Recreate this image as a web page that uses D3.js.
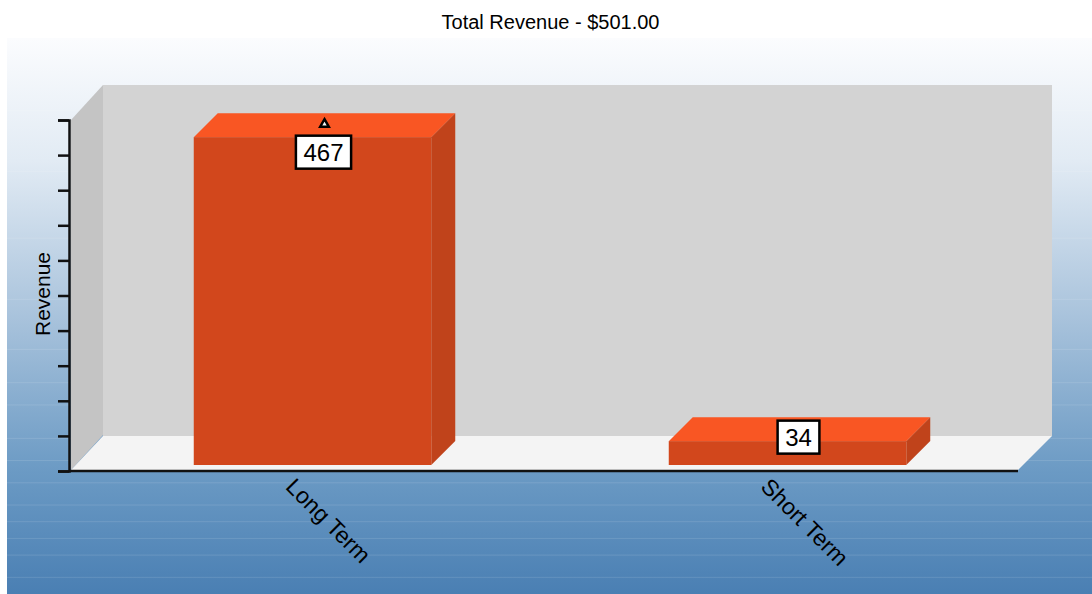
<!DOCTYPE html>
<html>
<head>
<meta charset="utf-8">
<title>Total Revenue</title>
<script src="https://cdn.jsdelivr.net/npm/d3@7"></script>
<style>
  html, body { margin: 0; padding: 0; background: #fff; }
  svg { display: block; }
  text { font-family: "Liberation Sans", Arial, sans-serif; fill: #000; }
</style>
</head>
<body>
<div id="chart"></div>
<script>
const title = "Total Revenue - $501.00";
const yTitle = "Revenue";
const categories = ["Long Term", "Short Term"];
const revenue = [467, 34];
const yTicks = d3.range(0, 501, 50);
// light streaks in the background, as a share of its height
const streaks = [0.13, 0.24, 0.36, 0.47, 0.56, 0.62, 0.66, 0.72, 0.76, 0.8, 0.84, 0.87, 0.9, 0.93, 0.97];

const width = 1092, height = 594;
const plot = { left: 69, right: 1019, top: 120, bottom: 471 };
const wall = { dx: 34, dy: 35 };      // depth of the back wall
const barInset = 6;                   // front of the bar sits this far in from the axes
const barDepth = 24;

const svg = d3.select("#chart").append("svg").attr("width", width).attr("height", height);

const defs = svg.append("defs");
const bg = defs.append("linearGradient").attr("id", "bg").attr("x1", 0).attr("x2", 0).attr("y1", 0).attr("y2", 1);
bg.append("stop").attr("offset", 0).attr("stop-color", "#fbfcfe");
bg.append("stop").attr("offset", 0.22).attr("stop-color", "#e2ebf4");
bg.append("stop").attr("offset", 0.5).attr("stop-color", "#a9c3dc");
bg.append("stop").attr("offset", 0.78).attr("stop-color", "#6b9ac4");
bg.append("stop").attr("offset", 1).attr("stop-color", "#4a7fb3");

const bgTop = 38, bgLeft = 7;
svg.append("rect").attr("x", bgLeft).attr("y", bgTop).attr("width", width - bgLeft).attr("height", height - bgTop).attr("fill", "url(#bg)");
svg.append("g").selectAll("line").data(streaks).join("line")
  .attr("x1", bgLeft).attr("x2", width)
  .attr("y1", d => bgTop + d * (height - bgTop))
  .attr("y2", d => bgTop + d * (height - bgTop))
  .attr("stroke", "#fff").attr("stroke-opacity", 0.12);

const x = d3.scaleBand().domain(categories).range([plot.left, plot.right]).paddingInner(0.5).paddingOuter(0.25);
const y = d3.scaleLinear().domain([0, 500]).range([plot.bottom, plot.top]);

const poly = pts => pts.map(p => p.join(",")).join(" ");

// walls and floor
const x0 = plot.left + 2, x1 = plot.right - 1, yb = plot.bottom - 1, yt = plot.top;
svg.append("polygon").attr("fill", "#c4c4c4")
  .attr("points", poly([[x0, yb], [x0 + wall.dx - 2, yb - wall.dy], [x0 + wall.dx - 2, yt - wall.dy], [x0, yt]]));
svg.append("polygon").attr("fill", "#d3d3d3")
  .attr("points", poly([[x0 + wall.dx - 2, yb - wall.dy + 1], [x1 + wall.dx, yb - wall.dy + 1], [x1 + wall.dx, yt - wall.dy], [x0 + wall.dx - 2, yt - wall.dy]]));
svg.append("polygon").attr("fill", "#f4f4f4")
  .attr("points", poly([[x0, yb], [x0 + wall.dx - 2, yb - wall.dy + 1], [x1 + wall.dx, yb - wall.dy + 1], [x1, yb]]));

// bars
const bars = svg.append("g").selectAll("g").data(categories.map((c, i) => ({ name: c, value: revenue[i] }))).join("g");
const front = d => ({ l: x(d.name) + barInset, r: x(d.name) + barInset + x.bandwidth(), t: y(d.value) - barInset, b: y(0) - barInset });
bars.append("polygon").attr("fill", "#f95623").attr("points", d => {
  const f = front(d);
  return poly([[f.l, f.t], [f.l + barDepth, f.t - barDepth], [f.r + barDepth, f.t - barDepth], [f.r, f.t]]);
});
bars.append("polygon").attr("fill", "#c0431b").attr("points", d => {
  const f = front(d);
  return poly([[f.r, f.t], [f.r + barDepth, f.t - barDepth], [f.r + barDepth, f.b - barDepth], [f.r, f.b]]);
});
bars.append("rect").attr("fill", "#d2471c")
  .attr("x", d => front(d).l).attr("y", d => front(d).t)
  .attr("width", x.bandwidth()).attr("height", d => front(d).b - front(d).t);

// axes
const yAxis = svg.append("g").attr("transform", `translate(${plot.left},0)`)
  .call(d3.axisLeft(y).tickValues(yTicks).tickSize(11).tickFormat(""));
const xAxis = svg.append("g").attr("transform", `translate(0,${plot.bottom})`)
  .call(d3.axisBottom(x).tickSize(0).tickFormat(""));
svg.selectAll(".domain").attr("stroke", "#111").attr("stroke-width", 2.5);
svg.selectAll(".tick line").attr("stroke", "#111").attr("stroke-width", 2.5);
xAxis.select(".domain").attr("d", `M${plot.left},0H${plot.right - 1}`);

// category labels
svg.append("g").selectAll("text").data(categories).join("text")
  .attr("transform", d => `translate(${x(d) + x.bandwidth() / 2 - 22},${plot.bottom + 17})rotate(45)`)
  .attr("font-size", 23)
  .text(d => d);

svg.append("text").attr("x", 550.5).attr("y", 29).attr("text-anchor", "middle").attr("font-size", 20).text(title);
svg.append("text").attr("transform", "translate(50,294)rotate(-90)").attr("text-anchor", "middle").attr("font-size", 21).text(yTitle);

// value labels, the tallest bar gets the marker and its box moved down to clear it
const maxValue = d3.max(revenue);
const labels = svg.append("g").selectAll("g").data(bars.data()).join("g")
  .attr("transform", d => {
    const f = front(d);
    const cx = (f.l + f.r) / 2 + barDepth / 2 - 1;
    const cy = f.t - barDepth / 2 + (d.value === maxValue ? 27 : 8);
    return `translate(${cx},${cy})`;
  });
labels.append("rect")
  .attr("x", d => -(String(d.value).length * 13.4 + 15) / 2)
  .attr("width", d => String(d.value).length * 13.4 + 15)
  .attr("y", -16.5).attr("height", 33)
  .attr("fill", "#fff").attr("stroke", "#000").attr("stroke-width", 2.5);
labels.append("text").attr("text-anchor", "middle").attr("y", 8.5).attr("font-size", 24).text(d => d.value);

svg.append("g").selectAll("path").data(bars.data().filter(d => d.value === maxValue)).join("path")
  .attr("transform", d => {
    const f = front(d);
    return `translate(${(f.l + f.r) / 2 + barDepth / 2},${f.t - barDepth / 2 - 1})`;
  })
  .attr("d", d3.symbol(d3.symbolTriangle, 32))
  .attr("fill", "#f4f4f4").attr("stroke", "#000").attr("stroke-width", 2.5);
</script>
</body>
</html>
